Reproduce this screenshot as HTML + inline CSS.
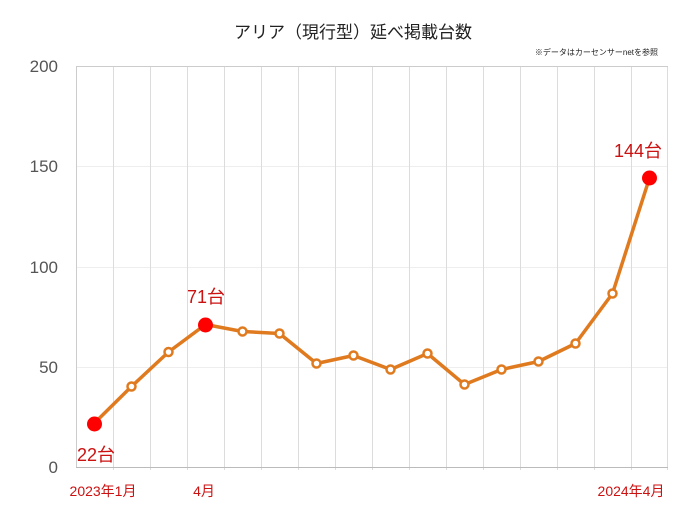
<!DOCTYPE html>
<html><head><meta charset="utf-8"><style>
body{margin:0;background:#fff;}
svg text{font-family:"Liberation Sans","Noto Sans CJK JP",sans-serif;}
</style></head><body>
<svg width="681" height="511" viewBox="0 0 681 511" xmlns="http://www.w3.org/2000/svg">
<rect width="681" height="511" fill="#fff"/>
<text x="353" y="38" font-size="17" text-anchor="middle" fill="#222">アリア（現行型）延べ掲載台数</text>
<text x="658" y="55" font-size="8" text-anchor="end" fill="#222">※データはカーセンサーnetを参照</text>
<g stroke="#eeeeee" stroke-width="1">
<line x1="76" y1="367.5" x2="668" y2="367.5"/>
<line x1="76" y1="267.5" x2="668" y2="267.5"/>
<line x1="76" y1="166.5" x2="668" y2="166.5"/>
</g>
<g stroke="#dcdcdc" stroke-width="1">
<line x1="113.5" y1="66" x2="113.5" y2="470"/><line x1="150.5" y1="66" x2="150.5" y2="470"/><line x1="187.5" y1="66" x2="187.5" y2="470"/><line x1="224.5" y1="66" x2="224.5" y2="470"/><line x1="261.5" y1="66" x2="261.5" y2="470"/><line x1="298.5" y1="66" x2="298.5" y2="470"/><line x1="335.5" y1="66" x2="335.5" y2="470"/><line x1="372.5" y1="66" x2="372.5" y2="470"/><line x1="409.5" y1="66" x2="409.5" y2="470"/><line x1="446.5" y1="66" x2="446.5" y2="470"/><line x1="483.5" y1="66" x2="483.5" y2="470"/><line x1="520.5" y1="66" x2="520.5" y2="470"/><line x1="557.5" y1="66" x2="557.5" y2="470"/><line x1="594.5" y1="66" x2="594.5" y2="470"/><line x1="631.5" y1="66" x2="631.5" y2="470"/><line x1="667.5" y1="66" x2="667.5" y2="470"/>
</g>
<line x1="76" y1="66.5" x2="668" y2="66.5" stroke="#cccccc"/>
<line x1="76.5" y1="66" x2="76.5" y2="468" stroke="#cccccc"/>
<line x1="76" y1="467.5" x2="668" y2="467.5" stroke="#bbbbbb"/>
<g font-size="17" fill="#555" text-anchor="end">
<text x="58" y="473">0</text><text x="58" y="373">50</text><text x="58" y="273">100</text><text x="58" y="172">150</text><text x="58" y="72">200</text>
</g>
<polyline fill="none" stroke="#e07a1f" stroke-width="3.5" stroke-linejoin="round"
points="94.5,423 131.5,386.5 168.5,352 205.5,324.5 242.5,331.5 279.5,333.5 316.5,363.5 353.5,355.5 390.5,369.5 427.5,353.5 464.5,384.5 501.5,369.5 538.5,361.5 575.5,343.5 612.5,293.5 649.5,178"/>
<g fill="#fff" stroke="#e07a1f" stroke-width="2.5">
<circle cx="131.5" cy="386.5" r="4"/><circle cx="168.5" cy="352" r="4"/><circle cx="242.5" cy="331.5" r="4"/><circle cx="279.5" cy="333.5" r="4"/><circle cx="316.5" cy="363.5" r="4"/><circle cx="353.5" cy="355.5" r="4"/><circle cx="390.5" cy="369.5" r="4"/><circle cx="427.5" cy="353.5" r="4"/><circle cx="464.5" cy="384.5" r="4"/><circle cx="501.5" cy="369.5" r="4"/><circle cx="538.5" cy="361.5" r="4"/><circle cx="575.5" cy="343.5" r="4"/><circle cx="612.5" cy="293.5" r="4"/>
</g>
<g fill="#ff0000">
<circle cx="94.5" cy="424" r="7.5"/><circle cx="205.5" cy="325" r="7.5"/><circle cx="649.5" cy="178" r="7.5"/>
</g>
<g font-size="18" fill="#cc1111" text-anchor="middle">
<text x="96" y="461">22台</text><text x="206" y="303">71台</text><text x="638" y="157">144台</text>
</g>
<g font-size="14" fill="#cc1111" text-anchor="middle">
<text x="103" y="496">2023年1月</text><text x="204" y="496">4月</text><text x="631" y="496">2024年4月</text>
</g>
</svg>
</body></html>
